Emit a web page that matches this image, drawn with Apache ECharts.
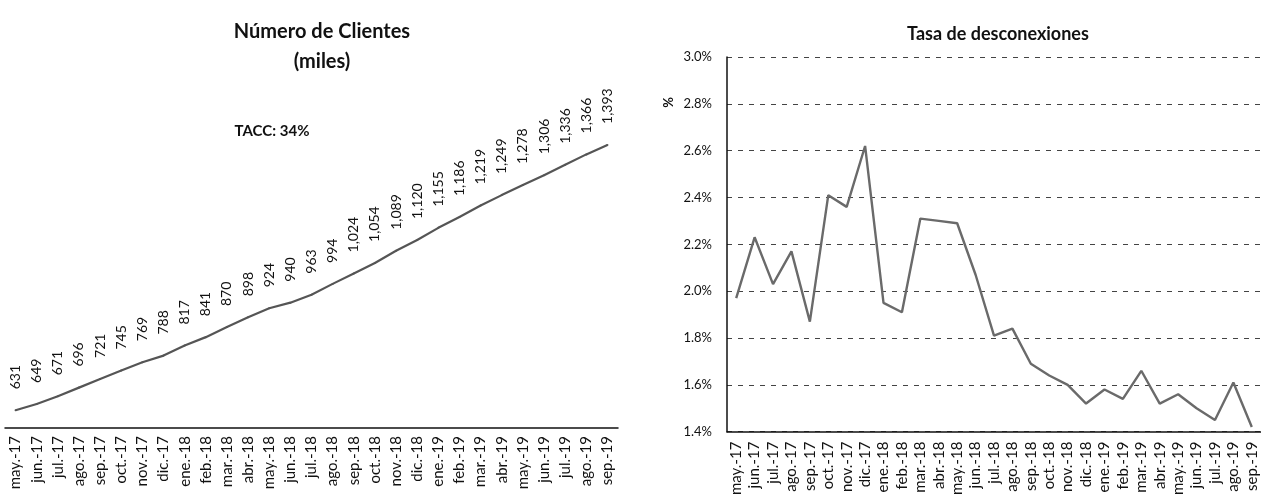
<!DOCTYPE html>
<html>
<head>
<meta charset="utf-8">
<script src="https://cdn.jsdelivr.net/npm/echarts@6/dist/echarts.min.js"></script>
<style>
  html, body { margin: 0; padding: 0; background: #fff; }
  #chart { width: 1261px; height: 498px; }
</style>
</head>
<body>
<div id="chart"></div>
<script>
// Months shown on both charts
const months = ['may.-17','jun.-17','jul.-17','ago.-17','sep.-17','oct.-17','nov.-17','dic.-17',
  'ene.-18','feb.-18','mar.-18','abr.-18','may.-18','jun.-18','jul.-18','ago.-18','sep.-18','oct.-18','nov.-18','dic.-18',
  'ene.-19','feb.-19','mar.-19','abr.-19','may.-19','jun.-19','jul.-19','ago.-19','sep.-19'];

// Number of clients (thousands)
const clientes = [631,649,671,696,721,745,769,788,817,841,870,898,924,940,963,994,1024,1054,1089,1120,1155,1186,1219,1249,1278,1306,1336,1366,1393];

// Disconnection rate (%)
const desconexiones = [1.97,2.23,2.03,2.17,1.87,2.41,2.36,2.62,1.95,1.91,2.31,2.30,2.29,2.07,1.81,1.84,1.69,1.64,1.60,1.52,1.58,1.54,1.66,1.52,1.56,1.50,1.45,1.61,1.42];

// Right-chart tick settings
const tasaMin = 1.4, tasaMax = 3.0, tasaStep = 0.2;

const FONT = 'Lato, "Noto Sans", sans-serif';

const chart = echarts.init(document.getElementById('chart'), null, { renderer: 'canvas' });

const xLabel = {
  rotate: 90,
  color: '#111',
  fontFamily: FONT,
  fontSize: 15,
  margin: 8,
  interval: 0
};

chart.setOption({
  animation: false,
  backgroundColor: '#fff',
  title: [
    { text: 'Número de Clientes\n(miles)', left: 317, top: 12, textAlign: 'center',
      textStyle: { fontFamily: FONT, fontWeight: 'bold', fontSize: 20, color: '#111', lineHeight: 30 } },
    { text: 'TACC: 34%', left: 267, top: 119, textAlign: 'center',
      textStyle: { fontFamily: FONT, fontWeight: 'bold', fontSize: 15, color: '#111' } },
    { text: 'Tasa de desconexiones', left: 993, top: 20, textAlign: 'center',
      textStyle: { fontFamily: FONT, fontWeight: 'bold', fontSize: 18, color: '#111' } }
  ],
  graphic: [
    { type: 'text', left: 662, top: 97, rotation: Math.PI / 2,
      style: { text: '%', font: 'bold 13px ' + FONT, fill: '#111' } }
  ],
  grid: [
    { left: 5, right: 643, top: 59, bottom: 70 },
    { left: 727, right: 0, top: 57, bottom: 64 }
  ],
  xAxis: [
    { type: 'category', gridIndex: 0, data: months, boundaryGap: true,
      axisLine: { lineStyle: { color: '#111', width: 1.5 } },
      axisTick: { show: false },
      axisLabel: xLabel },
    { type: 'category', gridIndex: 1, data: months, boundaryGap: true,
      axisLine: { lineStyle: { color: '#111', width: 1.5 } },
      axisTick: { show: false },
      axisLabel: Object.assign({}, xLabel, { margin: 10 }) }
  ],
  yAxis: [
    { type: 'value', gridIndex: 0, min: 580, max: 1640, show: false, splitLine: { show: false } },
    { type: 'value', gridIndex: 1, min: tasaMin, max: tasaMax, interval: tasaStep,
      axisLine: { show: true, lineStyle: { color: '#111', width: 1.5 } },
      axisTick: { show: false },
      axisLabel: { color: '#111', fontFamily: FONT, fontSize: 13, margin: 15,
        formatter: v => v.toFixed(1) + '%' },
      splitLine: { show: true, lineStyle: { color: '#444', type: [5, 6], width: 1 } } }
  ],
  series: [
    { type: 'line', xAxisIndex: 0, yAxisIndex: 0, data: clientes,
      symbol: 'circle', symbolSize: 2, showSymbol: true, showAllSymbol: true,
      itemStyle: { color: '#555' },
      lineStyle: { color: '#555', width: 2.2 },
      label: { show: true, position: 'top', rotate: 90, align: 'left', verticalAlign: 'middle',
        distance: 20, color: '#111', fontFamily: FONT, fontSize: 14,
        formatter: p => Number(p.value).toLocaleString('en-US') } },
    { type: 'line', xAxisIndex: 1, yAxisIndex: 1, data: desconexiones,
      symbol: 'none', smooth: false,
      lineStyle: { color: '#6a6a6a', width: 2.4 } }
  ]
});
</script>
</body>
</html>
